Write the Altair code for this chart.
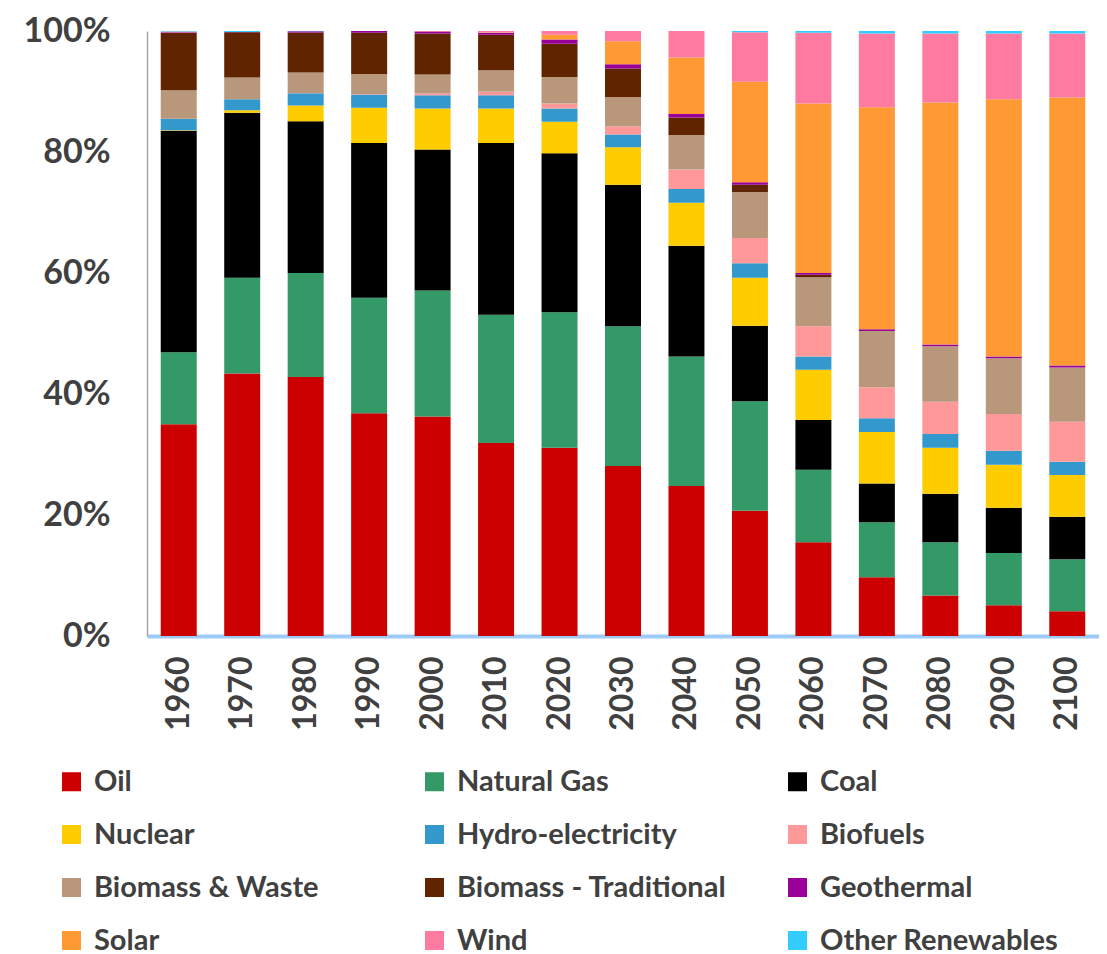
import altair as alt
import pandas as pd

years = ["1960", "1970", "1980", "1990", "2000", "2010", "2020", "2030",
         "2040", "2050", "2060", "2070", "2080", "2090", "2100"]

categories = ["Oil", "Natural Gas", "Coal", "Nuclear", "Hydro-electricity",
              "Biofuels", "Biomass & Waste", "Biomass - Traditional",
              "Geothermal", "Solar", "Wind", "Other Renewables"]

colors = ["#CC0000", "#339966", "#000000", "#FFCC00", "#3399CC", "#FF9999",
          "#B8977A", "#602400", "#990099", "#FF9933", "#FF7AA0", "#33CCFF"]

oil        = [35.0, 43.4, 42.8, 36.8, 36.3, 31.9, 31.1, 28.1, 24.8, 20.7, 15.5, 9.7, 6.7, 5.1, 4.1]
natural_gas = [11.9, 15.8, 17.2, 19.1, 20.8, 21.2, 22.4, 23.1, 21.4, 18.1, 12.0, 9.1, 8.8, 8.6, 8.6]
coal       = [36.6, 27.3, 25.1, 25.6, 23.3, 28.4, 26.3, 23.4, 18.3, 12.5, 8.2, 6.4, 8.0, 7.5, 7.0]
nuclear    = [0.1, 0.4, 2.6, 5.8, 6.8, 5.7, 5.2, 6.2, 7.1, 7.9, 8.3, 8.5, 7.6, 7.1, 6.9]
hydro      = [1.9, 1.8, 2.0, 2.2, 2.2, 2.2, 2.2, 2.1, 2.3, 2.4, 2.2, 2.3, 2.3, 2.3, 2.2]
biofuels   = [0.0, 0.0, 0.05, 0.1, 0.3, 0.6, 0.8, 1.3, 3.2, 4.2, 5.0, 5.1, 5.3, 6.1, 6.6]
biomass_waste = [4.7, 3.6, 3.4, 3.3, 3.1, 3.5, 4.4, 4.9, 5.7, 7.6, 8.1, 9.3, 9.2, 9.2, 9.0]
biomass_trad  = [9.5, 7.5, 6.6, 6.8, 6.8, 5.9, 5.5, 4.7, 2.9, 1.2, 0.4, 0.0, 0.0, 0.0, 0.0]
geothermal = [0.1, 0.05, 0.2, 0.3, 0.3, 0.3, 0.7, 0.7, 0.6, 0.4, 0.3, 0.3, 0.3, 0.3, 0.3]
solar      = [0.0, 0.0, 0.0, 0.0, 0.0, 0.1, 0.8, 3.8, 9.3, 16.6, 28.0, 36.7, 40.0, 42.5, 44.3]
wind       = [0.1, 0.0, 0.0, 0.0, 0.1, 0.2, 0.6, 1.7, 4.4, 8.2, 11.7, 12.2, 11.4, 10.9, 10.6]
other_renew = [0.1, 0.15, 0.05, 0.0, 0.0, 0.0, 0.0, 0.0, 0.0, 0.2, 0.3, 0.4, 0.4, 0.4, 0.4]

series = [oil, natural_gas, coal, nuclear, hydro, biofuels, biomass_waste,
          biomass_trad, geothermal, solar, wind, other_renew]

rows = []
for ci, (cat, vals) in enumerate(zip(categories, series)):
    for y, v in zip(years, vals):
        rows.append({"Year": y, "Source": cat, "Share": v, "idx": ci})
df = pd.DataFrame(rows)

FONT = "Lato"
TXT = "#404040"

chart = alt.Chart(df).mark_bar().encode(
    x=alt.X("Year:N", sort=years,
            scale=alt.Scale(paddingInner=0.433),
            axis=alt.Axis(title=None, labelAngle=-90, labelFontSize=32,
                          labelFontWeight="bold", labelColor=TXT, labelFont=FONT,
                          labelPadding=20, ticks=False, domainColor="#9DCBF5",
                          domainWidth=4)),
    y=alt.Y("Share:Q", stack="normalize",
            scale=alt.Scale(domain=[0, 1], nice=False),
            axis=alt.Axis(title=None, format=".0%", values=[0, 0.2, 0.4, 0.6, 0.8, 1.0],
                          labelFontSize=34, labelFontWeight="bold", labelColor=TXT,
                          labelFont=FONT, labelPadding=37, ticks=False, grid=False,
                          domainColor="#A6A6A6", domainWidth=1.5)),
    color=alt.Color("Source:N", sort=categories,
                    scale=alt.Scale(domain=categories, range=colors),
                    legend=alt.Legend(title=None, orient="none", legendX=-90, legendY=736,
                                      columns=3, direction="horizontal",
                                      symbolType="square", symbolSize=361,
                                      symbolStrokeWidth=0, labelFontSize=29,
                                      labelFontWeight="bold", labelColor=TXT,
                                      labelFont=FONT, labelOffset=8, labelLimit=500,
                                      gridAlign="all", columnPadding=56, rowPadding=23)),
    order=alt.Order("idx:Q", sort="ascending"),
).properties(
    width=952, height=605,
    autosize=alt.AutoSizeParams(type="none"),
    padding={"left": 139, "top": 23, "right": 0, "bottom": 318},
).configure_view(stroke=None)

chart.save("out.html", embed_options={"renderer": "svg", "actions": False})
